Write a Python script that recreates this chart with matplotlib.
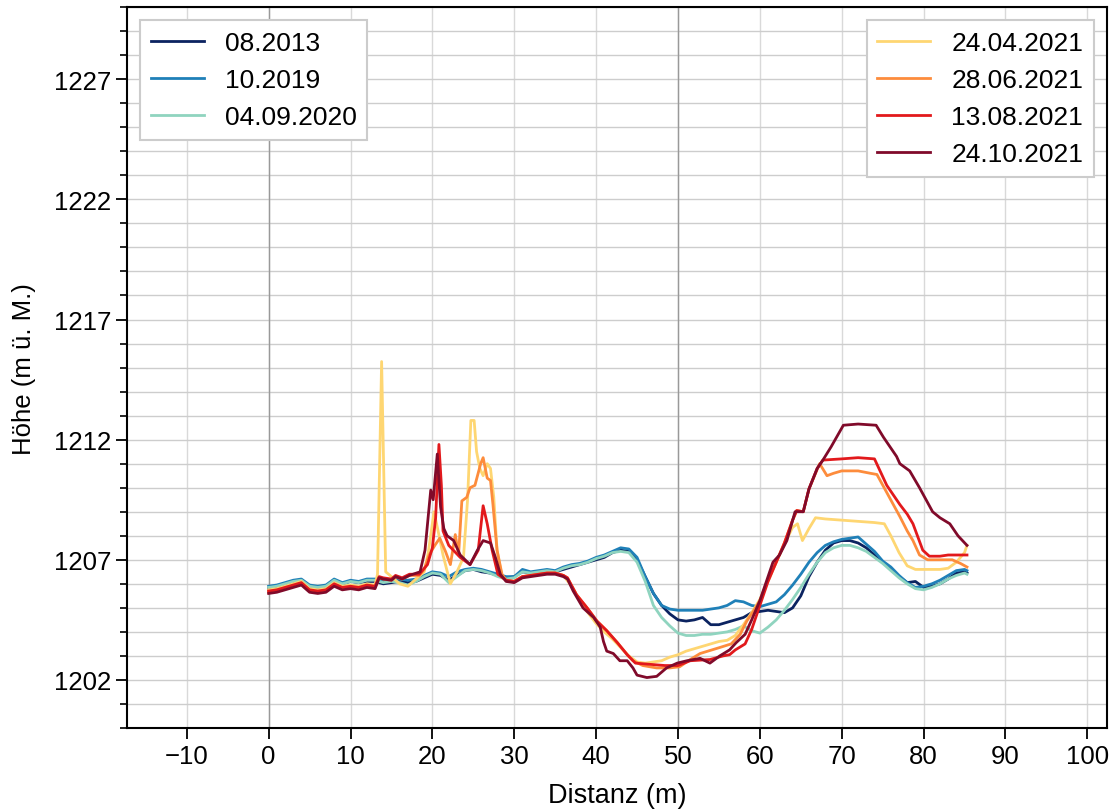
import matplotlib
matplotlib.use("Agg")
import matplotlib.pyplot as plt
from matplotlib.ticker import FixedLocator, MultipleLocator

plt.rcParams["font.family"] = ["Liberation Sans", "DejaVu Sans"]

# ---- profile data: distance (m) and elevation (m a.s.l.) ----
x_2013 = [0, 1, 2, 3, 4, 5, 6, 7, 8, 9, 10, 11, 12, 13, 14, 15, 16, 17, 18, 19, 20, 21, 22, 23,
          24, 25, 26, 27, 28, 29, 30, 31, 32, 33, 34, 35, 36, 37, 38, 39, 40, 41, 42, 43, 44,
          45, 46, 47, 48, 49, 50, 51, 52, 53, 54, 55, 56, 57, 58, 59, 60, 61, 62, 63, 64, 65,
          66, 67, 68, 69, 70, 71, 72, 73, 74, 75, 76, 77, 78, 79, 80, 81, 82, 83, 84, 85, 85.3]
h_2013 = [1205.8, 1205.85, 1205.95, 1206.05, 1206.15, 1205.9, 1205.85, 1205.9, 1206.15, 1206.0,
          1206.1, 1206.05, 1206.1, 1206.1, 1206.0, 1206.05, 1206.1, 1206.05, 1206.1, 1206.25,
          1206.4, 1206.35, 1206.15, 1206.35, 1206.55, 1206.6, 1206.5, 1206.45, 1206.35, 1206.25,
          1206.3, 1206.5, 1206.45, 1206.5, 1206.5, 1206.5, 1206.6, 1206.7, 1206.8, 1206.9,
          1207.0, 1207.1, 1207.3, 1207.4, 1207.35, 1207.0, 1206.3, 1205.6, 1205.1, 1204.75,
          1204.5, 1204.45, 1204.5, 1204.6, 1204.3, 1204.3, 1204.4, 1204.5, 1204.6, 1204.8,
          1204.85, 1204.9, 1204.85, 1204.8, 1205.0, 1205.5, 1206.3, 1206.9, 1207.4, 1207.7,
          1207.8, 1207.8, 1207.7, 1207.5, 1207.2, 1206.9, 1206.6, 1206.3, 1206.05, 1206.1,
          1205.85, 1205.9, 1206.0, 1206.2, 1206.45, 1206.5, 1206.45]

x_2019 = x_2013
h_2019 = [1205.9, 1205.95, 1206.05, 1206.15, 1206.2, 1205.95, 1205.9, 1205.95, 1206.2, 1206.05,
          1206.15, 1206.1, 1206.2, 1206.2, 1206.1, 1206.15, 1206.2, 1206.15, 1206.2, 1206.35,
          1206.5, 1206.45, 1206.3, 1206.5, 1206.6, 1206.65, 1206.6, 1206.5, 1206.4, 1206.3,
          1206.3, 1206.6, 1206.5, 1206.55, 1206.6, 1206.55, 1206.7, 1206.8, 1206.85, 1206.95,
          1207.1, 1207.2, 1207.35, 1207.5, 1207.45, 1207.1, 1206.3, 1205.6, 1205.1, 1204.95,
          1204.9, 1204.9, 1204.9, 1204.9, 1204.95, 1205.0, 1205.1, 1205.3, 1205.25, 1205.1,
          1205.05, 1205.15, 1205.25, 1205.55, 1205.95, 1206.4, 1206.9, 1207.3, 1207.6, 1207.75,
          1207.85, 1207.9, 1207.95, 1207.65, 1207.35, 1206.95, 1206.7, 1206.35, 1206.05, 1205.85,
          1205.9, 1206.0, 1206.15, 1206.35, 1206.55, 1206.6, 1206.55]

x_2020 = x_2013
h_2020 = [1205.85, 1205.9, 1206.0, 1206.1, 1206.15, 1205.9, 1205.85, 1205.9, 1206.15, 1206.0,
          1206.1, 1206.05, 1206.15, 1206.15, 1206.05, 1206.1, 1206.05, 1205.95, 1206.1, 1206.3,
          1206.45, 1206.4, 1206.05, 1206.3, 1206.55, 1206.6, 1206.55, 1206.45, 1206.3, 1206.2,
          1206.25, 1206.5, 1206.45, 1206.5, 1206.55, 1206.5, 1206.65, 1206.75, 1206.8, 1206.9,
          1207.05, 1207.15, 1207.3, 1207.35, 1207.3, 1206.9, 1206.1, 1205.1, 1204.6, 1204.25,
          1203.95, 1203.85, 1203.85, 1203.9, 1203.9, 1203.95, 1204.0, 1204.1, 1204.25, 1204.05,
          1203.95, 1204.2, 1204.5, 1204.9, 1205.35, 1205.85, 1206.4, 1206.9, 1207.3, 1207.5,
          1207.6, 1207.6, 1207.5, 1207.35, 1207.1, 1206.85, 1206.55, 1206.25, 1206.0, 1205.8,
          1205.75, 1205.85, 1206.0, 1206.2, 1206.35, 1206.45, 1206.4]

x_apr21 = [0, 1, 2, 3, 4, 5, 6, 7, 8, 9, 10, 11, 12, 13, 13.3, 13.8, 14.3, 15, 16, 17, 18, 19,
           19.5, 20.2, 20.7, 21.3, 22.2, 23, 23.8, 24.3, 24.7, 25.1, 25.4, 25.8, 26.2, 26.7,
           27.1, 27.5, 27.9, 28.5, 29, 30, 31, 32, 33, 34, 35, 36, 37, 38, 39, 40, 41, 42, 43,
           44, 45, 46, 47, 48, 49, 50, 51, 52, 53, 54, 55, 56, 57, 58, 59, 60, 61, 62, 63, 64,
           64.6, 65.2, 66, 66.8, 68, 70, 72, 74, 75.2, 76, 77, 78, 79, 80, 81, 82, 83, 84, 85,
           85.3]
h_apr21 = [1205.75, 1205.8, 1205.9, 1206.0, 1206.1, 1205.8, 1205.75, 1205.8, 1206.05, 1205.9,
           1205.95, 1205.9, 1206.0, 1205.95, 1206.4, 1215.25, 1206.5, 1206.3, 1206.0, 1205.9,
           1206.2, 1206.5, 1207.3, 1209.0, 1208.2, 1207.2, 1206.0, 1206.5, 1207.1, 1209.5,
           1212.8, 1212.8, 1211.5, 1210.8, 1210.5, 1211.0, 1210.8, 1209.6, 1207.4, 1206.3,
           1206.15, 1206.1, 1206.3, 1206.35, 1206.4, 1206.45, 1206.45, 1206.35, 1205.9, 1205.3,
           1204.8, 1204.35, 1204.0, 1203.7, 1203.35, 1203.0, 1202.75, 1202.7, 1202.75, 1202.8,
           1202.95, 1203.05, 1203.2, 1203.3, 1203.4, 1203.5, 1203.6, 1203.65, 1203.85, 1204.3,
           1204.8, 1205.35, 1206.1, 1206.9, 1207.65, 1208.35, 1208.5, 1207.8, 1208.3, 1208.75,
           1208.7, 1208.65, 1208.6, 1208.55, 1208.5, 1208.0, 1207.3, 1206.75, 1206.6, 1206.6,
           1206.6, 1206.6, 1206.65, 1206.9, 1207.3, 1207.6]

x_jun21 = [0, 1, 2, 3, 4, 5, 6, 7, 8, 9, 10, 11, 12, 13, 13.5, 14, 15, 15.5, 16.3, 17.2, 18.4,
           19.0, 19.6, 20.3, 20.9, 21.6, 22.2, 22.8, 23.2, 23.6, 24.2, 24.6, 25.2, 25.9, 26.2,
           26.7, 27.1, 27.4, 27.9, 28.5, 29, 30, 31, 32, 33, 34, 35, 36, 36.5, 37.6, 38.9, 40.1,
           41.3, 42.6, 43.8, 44.5, 45.7, 47.4, 49, 50.2, 51.5, 52.7, 55.1, 56.5, 57.6, 58.4,
           59.2, 60, 61, 62, 63, 64, 64.5, 65.3, 66, 67.3, 68.2, 69, 70, 72, 73.5, 74.3, 75.5,
           77.1, 78, 78.7, 79.5, 80.5, 82, 83.5, 84.5, 85.3]
h_jun21 = [1205.65, 1205.7, 1205.8, 1205.9, 1206.0, 1205.7, 1205.65, 1205.7, 1205.95, 1205.8,
           1205.85, 1205.8, 1205.9, 1205.85, 1206.25, 1206.2, 1206.15, 1206.3, 1206.2, 1206.35,
           1206.35, 1206.6, 1207.2, 1207.6, 1207.9, 1207.35, 1206.8, 1208.05, 1207.2, 1209.45,
           1209.6, 1210.0, 1210.1, 1211.0, 1211.25, 1210.4, 1210.3, 1209.3, 1207.4, 1206.4,
           1206.15, 1206.1, 1206.3, 1206.35, 1206.4, 1206.45, 1206.45, 1206.35, 1206.25,
           1205.55, 1205.0, 1204.45, 1204.05, 1203.55, 1203.05, 1202.8, 1202.6, 1202.5, 1202.5,
           1202.55, 1202.85, 1203.1, 1203.35, 1203.5, 1203.9, 1204.45, 1204.85, 1205.3, 1206.2,
           1206.9, 1207.7, 1208.65, 1209.05, 1209.0, 1209.95, 1211.0, 1210.5, 1210.6, 1210.7,
           1210.7, 1210.6, 1210.55, 1209.8, 1208.8, 1208.2, 1207.8, 1207.2, 1207.0, 1207.0,
           1207.0, 1206.85, 1206.7]

x_aug21 = [0, 1, 2, 3, 4, 5, 6, 7, 8, 9, 10, 11, 12, 13, 13.5, 14, 15, 15.5, 16.3, 17.2, 18.4,
           19.4, 20.0, 20.4, 20.8, 21.1, 21.3, 22.0, 23.4, 24.6, 25.6, 26.2, 26.7, 27.3, 28.0,
           29, 30, 31, 32, 33, 34, 35, 36, 36.5, 37.6, 38.9, 40.1, 41.3, 42.6, 43.8, 44.8, 46.6,
           48.4, 50, 51.5, 53.9, 55.5, 56.3, 57, 58.2, 59, 60, 61, 62, 63, 64, 64.5, 65.3, 66,
           67, 67.7, 70, 72, 74, 75.5, 77.1, 78, 78.7, 79.9, 80.7, 82, 83, 84, 85.3]
h_aug21 = [1205.7, 1205.75, 1205.85, 1205.95, 1206.05, 1205.75, 1205.7, 1205.75, 1206.0, 1205.85,
           1205.9, 1205.85, 1205.95, 1205.9, 1206.3, 1206.25, 1206.2, 1206.35, 1206.25, 1206.4,
           1206.4, 1206.8, 1207.5, 1208.75, 1211.8, 1210.1, 1208.2, 1207.6, 1207.1, 1206.8,
           1207.4, 1209.25, 1208.5, 1207.4, 1206.4, 1206.15, 1206.1, 1206.3, 1206.35, 1206.4,
           1206.45, 1206.45, 1206.35, 1206.25, 1205.55, 1205.0, 1204.45, 1204.05, 1203.55,
           1203.05, 1202.7, 1202.65, 1202.6, 1202.6, 1202.8, 1202.85, 1203.0, 1203.05, 1203.25,
           1203.5, 1204.1, 1205.1, 1206.1, 1206.9, 1207.7, 1208.65, 1209.05, 1209.0, 1209.95,
           1210.8, 1211.15, 1211.2, 1211.25, 1211.2, 1210.1, 1209.3, 1208.9, 1208.5, 1207.4,
           1207.15, 1207.15, 1207.2, 1207.2, 1207.2]

x_oct21 = [0, 1, 2, 3, 4, 5, 6, 7, 8, 9, 10, 11, 12, 13, 13.5, 14, 15, 15.5, 16.3, 17.2, 18.5,
           19.1, 19.8, 20.1, 20.6, 21.0, 21.4, 21.8, 22.6, 23.4, 24.6, 25.5, 26.2, 27.1, 27.7,
           28.3, 29, 30, 31, 32, 33, 34, 35, 36, 36.5, 37.2, 38.4, 39.7, 40.5, 40.9, 41.3, 42.1,
           42.9, 43.8, 44.5, 45, 46.2, 47.4, 48.6, 49.9, 51.1, 52.7, 53.9, 55.1, 56.3, 57.1,
           58.2, 59, 60, 60.9, 61.6, 62.4, 63.3, 64.3, 65.3, 66, 67, 67.7, 68.7, 70.2, 72,
           74.2, 75.1, 76.7, 77.1, 78.3, 79.5, 81.1, 82, 83.2, 84.2, 85.3]
h_oct21 = [1205.6, 1205.65, 1205.75, 1205.85, 1205.95, 1205.65, 1205.6, 1205.65, 1205.9,
           1205.75, 1205.8, 1205.75, 1205.85, 1205.8, 1206.25, 1206.2, 1206.15, 1206.3, 1206.2,
           1206.35, 1206.5, 1207.4, 1209.9, 1209.5, 1211.4, 1209.2, 1208.3, 1208.0, 1207.8,
           1207.2, 1206.8, 1207.4, 1207.8, 1207.7, 1207.1, 1206.4, 1206.1, 1206.05, 1206.25,
           1206.3, 1206.35, 1206.4, 1206.4, 1206.3, 1206.2, 1205.7, 1205.0, 1204.6, 1204.2,
           1203.6, 1203.2, 1203.1, 1202.8, 1202.8, 1202.5, 1202.2, 1202.1, 1202.15, 1202.5,
           1202.7, 1202.8, 1202.9, 1202.7, 1203.0, 1203.25, 1203.55, 1203.9, 1204.5, 1205.3,
           1206.2, 1206.9, 1207.2, 1207.8, 1209.0, 1209.0, 1209.95, 1210.8, 1211.15, 1211.7,
           1212.6, 1212.65, 1212.6, 1212.1, 1211.3, 1211.0, 1210.7, 1210.0, 1209.0, 1208.75,
           1208.5, 1208.0, 1207.6]

labels_left = ["08.2013", "10.2019", "04.09.2020"]
labels_right = ["24.04.2021", "28.06.2021", "13.08.2021", "24.10.2021"]
colors_left = ["#0b2360", "#1f80b8", "#8fd4bf"]
colors_right = ["#fed672", "#fd8c3c", "#e2191c", "#800a2a"]

x_ticks = [-10, 0, 10, 20, 30, 40, 50, 60, 70, 80, 90, 100]
y_ticks = [1202, 1207, 1212, 1217, 1222, 1227]

fig = plt.figure(figsize=(11.13, 8.12), dpi=100)
ax = fig.add_axes([0.1141, 0.1022, 0.8805, 0.8878])

ax.set_xlim(-17.3, 102.4)
ax.set_ylim(1200, 1230)

# grid: every metre in y, every 10 m in x; the 0 m and 50 m lines emphasised
ax.xaxis.set_major_locator(FixedLocator(x_ticks))
ax.yaxis.set_major_locator(FixedLocator(y_ticks))
ax.yaxis.set_minor_locator(MultipleLocator(1))
ax.set_axisbelow(True)
ax.grid(which="major", axis="x", color="#d9d9d9", linewidth=1.0)
ax.grid(which="both", axis="y", color="#cdcdcd", linewidth=1.0)
for xv in (0, 50):
    ax.axvline(xv, color="#999999", linewidth=1.0, zorder=1)

left_series = [(x_2013, h_2013), (x_2019, h_2019), (x_2020, h_2020)]
right_series = [(x_apr21, h_apr21), (x_jun21, h_jun21), (x_aug21, h_aug21), (x_oct21, h_oct21)]

left_handles = []
for (xs, hs), lab, col in zip(left_series, labels_left, colors_left):
    ln, = ax.plot(xs, hs, color=col, linewidth=2.0, label=lab, zorder=2)
    left_handles.append(ln)

right_handles = []
for (xs, hs), lab, col in zip(right_series, labels_right, colors_right):
    ln, = ax.plot(xs, hs, color=col, linewidth=2.0, label=lab, zorder=3)
    right_handles.append(ln)

ax.set_xlabel("Distanz (m)", fontsize=19.5, labelpad=10)
ax.set_ylabel("Höhe (m ü. M.)", fontsize=18.5, labelpad=13)

ax.tick_params(axis="both", which="major", labelsize=18.5, length=8, width=1.3, direction="out")
ax.tick_params(axis="y", which="minor", length=5, width=1.2, direction="out")
ax.tick_params(axis="x", which="minor", bottom=False)
for sp in ax.spines.values():
    sp.set_linewidth(1.5)
    sp.set_color("black")

leg_kw = dict(fontsize=19, fancybox=False, framealpha=1.0, edgecolor="#cccccc",
              borderaxespad=0.5, handlelength=2.0, handletextpad=0.8)
leg1 = ax.legend(handles=left_handles, loc="upper left", **leg_kw)
leg1.get_frame().set_linewidth(1.5)
ax.add_artist(leg1)
leg2 = ax.legend(handles=right_handles, loc="upper right", **leg_kw)
leg2.get_frame().set_linewidth(1.5)

fig.savefig("out.png", dpi=100)
